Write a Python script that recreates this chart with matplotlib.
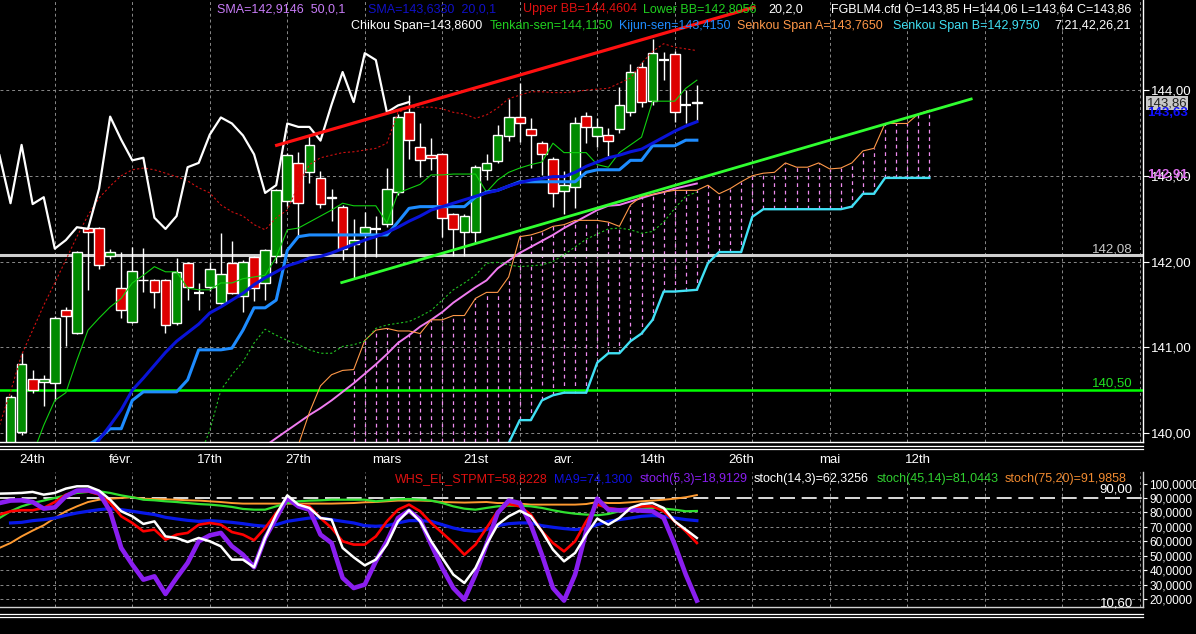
import numpy as np
import matplotlib
matplotlib.use("Agg")
import matplotlib.pyplot as plt
from matplotlib.lines import Line2D
import matplotlib.transforms as mtransforms

plt.rcParams['font.family'] = ['Liberation Sans', 'DejaVu Sans']

# ---------------- data ----------------
opens = [139.90, 140.01, 140.63, 140.59, 140.58, 141.43, 141.17, 142.39, 142.39, 142.06,
         141.69, 141.30, 141.78, 141.78, 141.78, 141.28, 141.98, 141.63, 141.70, 141.52,
         141.98, 141.60, 142.05, 141.75, 142.06, 142.70, 143.15, 143.04, 142.97, 142.74,
         142.64, 142.20, 142.33, 142.38, 142.44, 142.81, 143.74, 143.33, 143.24, 143.25,
         142.55, 142.35, 142.35, 143.07, 143.17, 143.46, 143.68, 143.54, 143.38, 143.20,
         142.82, 142.87, 143.70, 143.46, 143.47, 143.55, 143.74, 144.27, 143.87, 144.35,
         144.42, 143.82, 143.85]
highs = [140.44, 140.93, 140.73, 140.68, 141.36, 141.47, 142.12, 142.40, 142.40, 142.15,
         142.11, 142.17, 142.16, 141.80, 141.80, 142.04, 142.00, 141.75, 142.00, 142.33,
         142.24, 142.02, 142.07, 142.15, 142.85, 143.26, 143.28, 143.46, 143.05, 142.85,
         142.66, 142.50, 142.58, 142.53, 143.09, 143.72, 143.94, 143.62, 143.44, 143.27,
         142.57, 142.55, 143.12, 143.25, 143.59, 143.90, 144.08, 143.67, 143.40, 143.22,
         143.05, 143.68, 143.74, 143.67, 143.56, 144.03, 144.30, 144.33, 144.60, 144.44,
         144.45, 144.00, 144.06]
lows = [139.85, 139.98, 140.47, 140.31, 140.38, 141.01, 141.15, 141.67, 141.91, 142.03,
        141.34, 141.28, 141.65, 141.46, 141.17, 141.26, 141.55, 141.44, 141.66, 141.50,
        141.62, 141.41, 141.54, 141.55, 141.98, 142.65, 142.29, 142.92, 142.62, 142.47,
        142.02, 141.80, 142.05, 142.05, 142.40, 142.78, 143.20, 142.98, 143.07, 142.29,
        142.06, 142.06, 142.22, 142.95, 143.15, 143.40, 143.39, 143.09, 143.01, 142.64,
        142.55, 142.62, 143.38, 143.34, 143.23, 143.50, 143.70, 143.80, 143.83, 144.12,
        143.63, 143.61, 143.64]
closes = [140.42, 140.81, 140.50, 140.63, 141.34, 141.37, 142.11, 142.34, 141.96, 142.11,
          141.43, 141.89, 141.79, 141.65, 141.26, 141.88, 141.70, 141.63, 141.91, 141.86,
          141.63, 142.00, 141.69, 142.13, 142.83, 143.24, 142.68, 143.36, 142.67, 142.75,
          142.15, 142.25, 142.40, 142.38, 142.85, 143.69, 143.42, 143.18, 143.21, 142.51,
          142.38, 142.53, 143.10, 143.15, 143.48, 143.68, 143.61, 143.47, 143.25, 142.80,
          142.89, 143.61, 143.57, 143.57, 143.41, 143.83, 144.21, 143.86, 144.43, 144.35,
          143.74, 143.82, 143.86]

chikou_shift = 26

sma20_start = 7
sma20 = [139.75, 139.92, 140.09, 140.27, 140.50, 140.64, 140.79, 140.94, 141.07, 141.17,
         141.27, 141.40, 141.47, 141.55, 141.63, 141.73, 141.81, 141.88, 141.95, 141.99,
         142.04, 142.06, 142.10, 142.15, 142.20, 142.25, 142.29, 142.34, 142.40, 142.47,
         142.53, 142.60, 142.64, 142.68, 142.72, 142.76, 142.80, 142.83, 142.88, 142.92,
         142.95, 142.97, 142.99, 142.99, 143.04, 143.11, 143.16, 143.21, 143.24, 143.28,
         143.31, 143.38, 143.45, 143.52, 143.58, 143.63]

kijun_start = 7
kijun = [139.86, 139.94, 140.05, 140.05, 140.38, 140.48, 140.48, 140.48, 140.48, 140.62,
         140.97, 140.97, 140.97, 140.99, 141.20, 141.46, 141.46, 141.55, 142.13, 142.29,
         142.31, 142.31, 142.31, 142.31, 142.31, 142.31, 142.31, 142.31, 142.46, 142.62,
         142.64, 142.64, 142.64, 142.64, 142.64, 142.75, 142.81, 142.83, 142.88, 142.93,
         142.93, 142.93, 142.93, 142.93, 142.93, 143.04, 143.07, 143.07, 143.07, 143.18,
         143.18, 143.35, 143.35, 143.35, 143.415, 143.415]

tenkan_start = 2
tenkan = [139.75, 140.09, 140.38, 140.47, 140.85, 141.20, 141.34, 141.47, 141.57, 141.75,
          141.84, 141.94, 141.88, 141.88, 141.69, 141.67, 141.67, 141.75, 141.75, 141.80,
          141.82, 141.84, 142.05, 142.37, 142.39, 142.46, 142.53, 142.60, 142.68, 142.65,
          142.65, 142.65, 142.45, 142.80, 142.85, 142.90, 143.01, 143.01, 143.02, 143.02,
          143.02, 142.81, 142.95, 143.04, 143.09, 143.13, 143.16, 143.38, 143.27, 143.27,
          143.27, 143.13, 143.10, 143.27, 143.36, 143.45, 143.87, 143.87, 143.87, 144.02,
          144.115]

upper_bb_start = -1
upper_bb = [140.09, 140.48, 140.91, 141.20, 141.49, 141.75, 142.02, 142.29, 142.54, 142.74,
            142.88, 143.00, 143.07, 143.09, 143.07, 143.03, 142.99, 142.94, 142.86, 142.80,
            142.66, 142.58, 142.53, 142.43, 142.37, 142.51, 142.60, 142.89, 143.13, 143.21,
            143.24, 143.27, 143.28, 143.30, 143.32, 143.38, 143.74, 143.79, 143.80, 143.80,
            143.78, 143.74, 143.72, 143.67, 143.71, 143.79, 143.90, 143.94, 143.98, 143.98,
            143.97, 143.97, 143.98, 144.00, 144.01, 144.02, 144.08, 144.14, 144.31, 144.45,
            144.54, 144.50, 144.48, 144.46]

lower_bb_start = 17
lower_bb = [139.70, 140.03, 140.50, 140.68, 140.83, 141.05, 141.21, 141.14, 141.08, 141.03,
            140.97, 140.93, 140.93, 141.01, 141.03, 141.07, 141.22, 141.26, 141.28, 141.30,
            141.36, 141.43, 141.55, 141.67, 141.75, 141.84, 141.98, 141.99, 141.96, 141.94,
            141.95, 141.96, 142.00, 142.08, 142.17, 142.26, 142.32, 142.38, 142.39, 142.37,
            142.33, 142.35, 142.46, 142.62, 142.76, 142.81]

sma50_start = 23
sma50 = [139.85, 139.94, 140.03, 140.12, 140.21, 140.29, 140.38, 140.48, 140.58, 140.69,
         140.80, 140.92, 141.05, 141.14, 141.24, 141.32, 141.41, 141.52, 141.61, 141.70,
         141.78, 141.92, 142.01, 142.10, 142.17, 142.24, 142.31, 142.39, 142.46, 142.53,
         142.60, 142.65, 142.66, 142.70, 142.74, 142.78, 142.81, 142.85, 142.88, 142.91]

senkou_a_start = 26
senkou_a = [139.86, 140.24, 140.55, 140.68, 140.73, 140.74, 141.08, 141.20, 141.22, 141.19,
            141.19, 141.16, 141.32, 141.32, 141.37, 141.37, 141.57, 141.64, 141.64, 141.82,
            142.29, 142.31, 142.35, 142.41, 142.43, 142.48, 142.48, 142.48, 142.46, 142.41,
            142.66, 142.76, 142.78, 142.81, 142.83, 142.83, 142.83, 142.89, 142.79, 142.85,
            142.93, 143.00, 143.03, 143.04, 143.15, 143.10, 143.10, 143.15, 143.08, 143.09,
            143.15, 143.29, 143.32, 143.61, 143.61, 143.61, 143.72, 143.765]

senkou_b_start = 44
senkou_b = [139.70, 139.88, 140.15, 140.15, 140.38, 140.44, 140.47, 140.47, 140.47, 140.82,
            140.93, 140.93, 141.07, 141.16, 141.32, 141.65, 141.65, 141.66, 141.67, 141.98,
            142.11, 142.11, 142.11, 142.52, 142.61, 142.61, 142.61, 142.61, 142.61, 142.61,
            142.61, 142.61, 142.64, 142.79, 142.79, 142.975, 142.975, 142.975, 142.975, 142.975]

cloud_first = 31

red_trend_x = [23.9, 67.3]
red_trend_y = [143.35, 144.97]
green_trend_x = [29.8, 86.9]
green_trend_y = [141.75, 143.90]
hline_grey = 142.08
hline_green = 140.50

date_idx = [2, 10, 18, 26, 34, 42, 50, 58, 66, 74, 82]
date_labels = ['24th', 'févr.', '17th', '27th', 'mars', '21st', 'avr.', '14th', '26th', 'mai', '12th']
vgrid_idx = list(range(4, 103, 7))
price_ticks = [140, 141, 142, 143, 144]

# lower panel (index -1 .. 62)
osc_start = -1
whs = [78.5, 80.8, 81.5, 81.5, 83.1, 87.2, 92.3, 94.6, 94.6, 92.3,
       86.5, 77.3, 72.7, 66.9, 68.1, 61.1, 64.6, 65.8, 71.5, 72.7,
       71.5, 66.4, 64.6, 60.7, 69.2, 79.6, 88.8, 85.4, 84.2, 76.1,
       69.2, 60.0, 57.7, 57.7, 63.4, 73.8, 81.9, 85.4, 80.8, 72.7,
       65.8, 58.8, 50.7, 57.7, 69.2, 80.8, 85.8, 84.2, 78.5, 66.9,
       58.8, 53.0, 60.0, 73.8, 85.4, 83.1, 81.9, 82.6, 84.2, 84.2,
       80.8, 73.8, 66.9, 58.8]
ma9_start = 0
ma9 = [72.7, 73.1, 74.3, 75.0, 76.1, 78.0, 79.6, 80.8, 81.9, 82.6,
       81.9, 80.8, 79.6, 78.5, 76.6, 75.5, 74.5, 73.8, 74.3, 73.8,
       73.1, 72.2, 71.1, 70.4, 71.5, 73.8, 75.0, 76.1, 76.1, 75.0,
       73.8, 72.7, 70.8, 70.4, 70.8, 72.7, 74.3, 74.3, 73.8, 71.5,
       69.2, 67.6, 66.9, 68.1, 70.8, 72.2, 72.7, 72.7, 70.8, 69.7,
       68.8, 68.1, 68.8, 71.5, 73.8, 75.0, 76.1, 77.3, 77.8, 77.3,
       76.1, 75.0, 74.3]
stoch5 = [86.5, 88.2, 88.4, 87.2, 82.6, 83.5, 91.2, 95.1, 95.3, 93.5,
          80.8, 55.4, 43.8, 33.4, 35.7, 23.5, 34.6, 45.0, 60.0, 64.1,
          65.8, 56.5, 50.7, 42.0, 62.3, 76.1, 90.0, 84.2, 81.9, 64.6,
          58.8, 34.6, 27.6, 30.0, 46.1, 60.0, 76.1, 81.2, 75.0, 57.7,
          41.5, 27.6, 19.6, 36.9, 57.7, 79.6, 88.2, 86.5, 71.5, 50.7,
          27.6, 18.9, 36.9, 66.9, 89.5, 81.9, 81.5, 81.9, 81.2, 80.8,
          76.1, 57.7, 36.9, 18.9]
stoch14 = [93.0, 93.2, 93.5, 94.2, 92.3, 93.5, 96.5, 98.1, 98.1, 95.1,
           88.8, 80.8, 77.3, 72.0, 73.8, 63.4, 62.3, 59.5, 62.3, 60.0,
           56.5, 47.3, 47.3, 42.0, 62.3, 78.5, 91.8, 85.4, 83.1, 76.1,
           75.0, 55.4, 48.9, 43.3, 47.3, 57.7, 73.8, 81.5, 73.8, 60.0,
           48.4, 36.9, 31.1, 41.5, 57.7, 71.5, 77.3, 81.2, 77.3, 66.9,
           54.2, 46.1, 51.9, 64.6, 75.7, 71.5, 76.1, 83.1, 85.8, 86.5,
           83.1, 73.8, 68.1, 62.3]
stoch45 = [76.1, 80.8, 84.2, 86.5, 88.2, 90.0, 91.8, 93.5, 94.2, 94.6,
           93.5, 91.8, 90.5, 88.8, 88.4, 87.7, 87.2, 86.5, 85.8, 85.4,
           84.7, 83.8, 82.4, 81.9, 81.9, 84.2, 86.5, 87.7, 88.2, 88.4,
           88.8, 88.8, 88.8, 88.8, 87.7, 88.4, 89.1, 89.3, 88.8, 88.2,
           86.5, 84.2, 82.6, 81.9, 83.1, 84.2, 84.7, 84.7, 84.2, 83.1,
           81.5, 80.1, 79.1, 78.5, 78.0, 78.9, 80.8, 81.9, 82.4, 83.1,
           82.6, 81.9, 80.8, 81.0]
stoch75 = [55.4, 58.8, 63.4, 67.4, 71.1, 76.1, 80.8, 84.2, 87.2, 88.8,
           89.5, 90.0, 90.5, 89.5, 89.3, 89.1, 88.8, 88.4, 88.2, 87.7,
           87.2, 86.5, 86.1, 86.1, 86.1, 86.1, 86.1, 86.1, 86.1, 86.1,
           86.1, 86.3, 86.5, 87.0, 87.2, 87.7, 88.2, 88.2, 88.2, 87.9,
           87.2, 87.0, 86.8, 87.0, 87.2, 86.5, 86.5, 86.1, 85.4, 85.4,
           85.4, 85.4, 85.4, 85.8, 87.2, 86.5, 86.5, 87.0, 87.7, 88.2,
           88.8, 89.5, 90.5, 92.0]
osc_ticks = [20, 30, 40, 50, 60, 70, 80, 90, 100]
osc_level = 90

# ---------------- figure ----------------
W, H = 1196, 634
fig = plt.figure(figsize=(W / 100, H / 100), dpi=100, facecolor='black')


def fx(x):
    return x / W


def fy(y):
    return 1 - y / H


XL = (-0.95, 102.3)
GRID_KW = dict(color='#8a8a8a', lw=0.7, ls=(0, (3, 3)), zorder=0)

ax = fig.add_axes([0, fy(442), fx(1143), 442 / H])
ax.set_facecolor('black')
ax.set_xlim(*XL)
ax.set_ylim(139.895, 145.05)
for s in ['left', 'top']:
    ax.spines[s].set_visible(False)
for s in ['right', 'bottom']:
    ax.spines[s].set_color('white')
    ax.spines[s].set_linewidth(1)
ax.set_xticks([])
ax.yaxis.tick_right()
ax.set_yticks(price_ticks)
ax.set_yticklabels([f"{v:.2f}".replace('.', ',') for v in price_ticks])
ax.tick_params(axis='y', colors='white', labelsize=9.5, length=4, width=0.8, pad=2)
for v in price_ticks:
    ax.axhline(v, **GRID_KW)
for v in vgrid_idx:
    ax.axvline(v, **GRID_KW)


def series(start, vals):
    return np.arange(len(vals)) + start, np.array(vals, dtype=float)


# cloud
xa, ya = series(senkou_a_start, senkou_a)
xb, yb = series(senkou_b_start, senkou_b)
bottom = ax.get_ylim()[0]
for x, a in zip(xa, ya):
    if x < cloud_first:
        continue
    lo = yb[xb == x][0] if x in xb else bottom
    ax.vlines(x, max(lo, bottom), a, color='#f08cf0', lw=0.9, ls=(0, (3, 3)), zorder=1)

# horizontal levels
ax.axhline(hline_grey, color='#cfcfcf', lw=2.2, zorder=2)
ax.axhline(hline_green, color='#00ff00', lw=1.8, zorder=2)

# candles
idx = np.arange(len(closes))
o = np.array(opens); c = np.array(closes); hi = np.array(highs); lo_ = np.array(lows)
up = c > o + 0.005
dn = c < o - 0.005
dj = ~(up | dn)
ax.vlines(idx, lo_, hi, color='white', lw=1, zorder=3)
ax.bar(idx[up], (c - o)[up], bottom=o[up], width=0.88, color='#008a00', edgecolor='white', lw=1, zorder=4)
ax.bar(idx[dn], (o - c)[dn], bottom=c[dn], width=0.88, color='#dd0000', edgecolor='white', lw=1, zorder=4)
ax.hlines(((o + c) / 2)[dj], idx[dj] - 0.45, idx[dj] + 0.45, color='white', lw=1.6, zorder=4)

# indicator lines
ax.plot(*series(sma50_start, sma50), color='#f07cf0', lw=1.4, zorder=5)
ax.plot(*series(senkou_a_start, senkou_a), color='#ff9848', lw=0.8, zorder=5)
ax.plot(*series(senkou_b_start, senkou_b), color='#40e0f4', lw=1.7, zorder=5)
ax.plot(*series(lower_bb_start, lower_bb), color='#20c020', lw=0.8, ls=(0, (2, 2)), zorder=5)
ax.plot(*series(upper_bb_start, upper_bb), color='#d01010', lw=0.8, ls=(0, (2, 2)), zorder=5)
ax.plot(*series(tenkan_start, tenkan), color='#10d010', lw=0.8, zorder=6)
ax.plot(*series(kijun_start, kijun), color='#1e8cff', lw=2.2, zorder=6)
ax.plot(*series(sma20_start, sma20), color='#0a14d8', lw=2.2, zorder=6)
ch_x = idx - chikou_shift
keep = ch_x >= -1
ax.plot(ch_x[keep], c[keep], color='white', lw=1.6, zorder=6)
ax.plot(red_trend_x, red_trend_y, color='#ff1010', lw=2.3, zorder=7, solid_capstyle='butt')
ax.plot(green_trend_x, green_trend_y, color='#30ff30', lw=2.0, zorder=7, solid_capstyle='butt')

# ---------------- lower panel ----------------
ax2 = fig.add_axes([0, fy(607), fx(1143), (607 - 472) / H])
ax2.set_facecolor('black')
ax2.set_xlim(*XL)
ax2.set_ylim(14.46, 108.0)
for s in ['left', 'top']:
    ax2.spines[s].set_visible(False)
for s in ['right', 'bottom']:
    ax2.spines[s].set_color('#d0d0d0')
    ax2.spines[s].set_linewidth(1)
ax2.set_xticks([])
ax2.yaxis.tick_right()
ax2.set_yticks(osc_ticks)
ax2.set_yticklabels([f"{v:.4f}".replace('.', ',') for v in osc_ticks])
ax2.tick_params(axis='y', colors='white', labelsize=8.6, length=3, width=0.8, pad=1.5)
for v in osc_ticks[:-2]:
    ax2.axhline(v, **GRID_KW)
for v in vgrid_idx:
    ax2.axvline(v, **GRID_KW)
ax2.axhline(osc_level, color='white', lw=1.2, ls=(0, (9, 4)), zorder=1)

ax2.plot(*series(osc_start, stoch75), color='#ff9a30', lw=1.4, zorder=3)
ax2.plot(*series(osc_start, stoch45), color='#30e030', lw=1.6, zorder=3)
ax2.plot(*series(ma9_start, ma9), color='#0818e8', lw=2.3, zorder=3)
ax2.plot(*series(osc_start, whs), color='#ff0000', lw=1.9, zorder=4)
ax2.plot(*series(osc_start, stoch5), color='#8a1ef0', lw=3.3, zorder=4)
ax2.plot(*series(osc_start, stoch14), color='white', lw=1.8, zorder=5)

# ---------------- separators ----------------
for yy in (445.5, 448.5, 613.5, 616.5):
    fig.add_artist(Line2D([0, fx(1143)], [fy(yy), fy(yy)], color='white', lw=0.9))

# date labels
trans = mtransforms.blended_transform_factory(ax.transData, fig.transFigure)
for i, lab in zip(date_idx, date_labels):
    fig.text(i, fy(460), lab, transform=trans, color='white', fontsize=9.5,
             ha='center', va='center')

# ---------------- texts ----------------
FS = 9


def t(x, y, s, col, **kw):
    fig.text(fx(x), fy(y), s, color=col, fontsize=kw.pop('fs', FS), va='center', **kw)


t(217, 9, 'SMA=142,9146  50,0,1', '#c87cf8')
t(368, 9, 'SMA=143,6330  20,0,1', '#1010c8')
t(523, 9, 'Upper BB=144,4604', '#e01010')
t(643, 9, 'Lower BB=142,8056', '#20d020')
t(768, 9, '20,2,0', 'white')
t(1131, 9, 'FGBLM4.cfd O=143,85 H=144,06 L=143,64 C=143,86', 'white', ha='right')

t(351, 26, 'Chikou Span=143,8600', 'white')
t(490, 26, 'Tenkan-sen=144,1150', '#20d020')
t(619, 26, 'Kijun-sen=143,4150', '#1e8cff')
t(737, 26, 'Senkou Span A=143,7650', '#ff9848')
t(893, 26, 'Senkou Span B=142,9750', '#40e0f4')
t(1131, 26, '7,21,42,26,21', 'white', ha='right')

t(1133, 249, '142,08', '#c8c8c8', ha='right', fs=9.5)
t(1133, 383, '140,50', '#20e020', ha='right', fs=9.5)

fig.text(fx(1147), fy(103), '143,86', color='#202020', fontsize=9.5, va='center',
         bbox=dict(boxstyle='square,pad=0.05', fc='#c8c8c8', ec='none'))
t(1147, 113, '143,63', '#1010ff', fs=9.5, fontweight='bold')
t(1147, 175, '142,91', '#e070f0', fs=9.5, fontweight='bold')

t(1133, 490, '90,00', 'white', ha='right', fs=9.5)
t(1133, 603, '10,60', 'white', ha='right', fs=9.5)

t(395, 479, 'WHS_EL_STPMT=58,8228', '#e01010')
t(554, 479, 'MA9=74,1300', '#1010e0')
t(640, 479, 'stoch(5,3)=18,9129', '#8a1ef0')
t(754, 479, 'stoch(14,3)=62,3256', 'white')
t(877, 479, 'stoch(45,14)=81,0443', '#30d030')
t(1005, 479, 'stoch(75,20)=91,9858', '#f08a30')

fig.savefig('out.png', dpi=100, facecolor='black')
